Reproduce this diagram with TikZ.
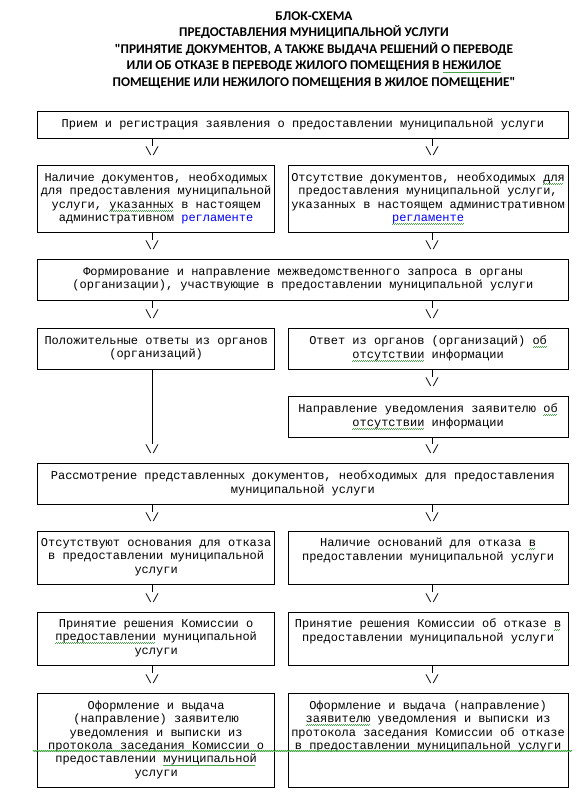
\documentclass[tikz,border=0pt]{standalone}
\usepackage{fontspec}
\setmainfont{Liberation Mono}
\newfontfamily\headfont{Carlito}
\usetikzlibrary{decorations.pathmorphing}
\definecolor{cblue}{RGB}{0,0,255}
\definecolor{cgreen}{RGB}{70,165,70}
% spell-check wave under a word
\newsavebox\sqbox
\newcommand\sqw[1]{\sbox\sqbox{#1}\rlap{\raisebox{-2.5pt}{\textcolor{cgreen}{\hbox to \wd\sqbox{\leaders\hbox{\rule{0.75pt}{0.6pt}\raisebox{0.6pt}{\rule{0.75pt}{0.6pt}}}\hfill}}}}\usebox\sqbox}
\tikzset{
  every picture/.style={line width=0.75pt},
  head/.style={font=\headfont\bfseries\fontsize{10pt}{12.4pt}\selectfont, align=center, inner sep=0pt,
    execute at begin node=\strut, execute at end node=\strut},
  box/.style={draw, align=center, inner sep=0pt, anchor=north west,
    font=\fontsize{9pt}{10.05pt}\selectfont, execute at begin node=\strut, execute at end node=\strut},
  wbox/.style={box, minimum width=397.65pt},
  lbox/.style={box, minimum width=177.5pt},
  rbox/.style={box, minimum width=209.85pt},
  down/.style={font=\fontsize{9pt}{9pt}\selectfont, inner sep=0.75pt},
  link/.style={draw, line width=0.75pt},
  wave/.style={draw=cgreen, line width=0.6pt, decorate, decoration={zigzag, amplitude=0.45pt, segment length=1.5pt}},
}

\begin{document}
\begin{tikzpicture}[x=0.75pt, y=-0.75pt]
  \useasboundingbox (0,0) rectangle (577,797);
  \def\xl{152} \def\xr{432}
  % title
  \node[head] (title) at (314,51.5) {БЛОК-СХЕМА\\ПРЕДОСТАВЛЕНИЯ МУНИЦИПАЛЬНОЙ УСЛУГИ\\"ПРИНЯТИЕ ДОКУМЕНТОВ, А ТАКЖЕ ВЫДАЧА РЕШЕНИЙ О ПЕРЕВОДЕ\\ИЛИ ОБ ОТКАЗЕ В ПЕРЕВОДЕ ЖИЛОГО ПОМЕЩЕНИЯ В \sqw{НЕЖИЛОЕ}\\ПОМЕЩЕНИЕ ИЛИ НЕЖИЛОГО ПОМЕЩЕНИЯ В ЖИЛОЕ ПОМЕЩЕНИЕ"};
  % boxes
  \node[wbox, minimum height=20.7pt] (recv) at (37.3,110.7) {Прием и регистрация заявления о предоставлении муниципальной услуги};
  \node[lbox, minimum height=50pt] (docsyes) at (37.3,165.3) {Наличие документов, необходимых\\для предоставления муниципальной\\услуги, \sqw{указанных} в настоящем\\административном \textcolor{cblue}{регламенте}};
  \node[rbox, minimum height=50pt] (docsno) at (287.7,165.3) {Отсутствие документов, необходимых \sqw{для}\\предоставления муниципальной услуги,\\указанных в настоящем административном\\\textcolor{cblue}{\sqw{регламенте}}};
  \node[wbox, minimum height=31.1pt] (query) at (37.3,259) {Формирование и направление межведомственного запроса в органы\\(организации), участвующие в предоставлении муниципальной услуги};
  \node[lbox, minimum height=31.1pt] (answyes) at (37.3,327.7) {Положительные ответы из органов\\(организаций)};
  \node[rbox, minimum height=31.1pt] (answno) at (287.7,327.7) {Ответ из органов (организаций) \sqw{об}\\\sqw{отсутствии} информации};
  \node[rbox, minimum height=31.1pt] (notify) at (287.7,395.7) {Направление уведомления заявителю \sqw{об}\\\sqw{отсутствии} информации};
  \node[wbox, minimum height=31.1pt] (review) at (37.3,462.7) {Рассмотрение представленных документов, необходимых для предоставления\\муниципальной услуги};
  \node[lbox, minimum height=40pt] (noground) at (37.3,530.7) {Отсутствуют основания для отказа\\в предоставлении муниципальной\\услуги};
  \node[rbox, minimum height=40pt] (ground) at (287.7,530.7) {Наличие оснований для отказа \sqw{в}\\предоставлении муниципальной услуги\\~};
  \node[lbox, minimum height=40pt] (grant) at (37.3,611.5) {Принятие решения Комиссии о\\\sqw{предоставлении} муниципальной\\услуги};
  \node[rbox, minimum height=40pt] (refuse) at (287.7,611.5) {Принятие решения Комиссии об отказе \sqw{в}\\предоставлении муниципальной услуги\\~};
  \node[lbox, minimum height=71.1pt] (issueyes) at (37.3,692.5) {Оформление и выдача\\(направление) заявителю\\уведомления и выписки из\\протокола заседания Комиссии о\\предоставлении \sqw{муниципальной}\\услуги};
  \node[rbox, minimum height=71.1pt] (issueno) at (287.7,692.5) {Оформление и выдача (направление)\\\sqw{заявителю} уведомления и выписки из\\протокола заседания Комиссии об отказе\\в предоставлении муниципальной услуги\\~\\~};
  \draw[wave] (33,751) -- (572,751);
  % arrows
  \node[down] (v1) at (\xl,151.5) {\textbackslash/};
  \node[down] (v2) at (\xr,151.5) {\textbackslash/};
  \node[down] (v3) at (\xl,245.5) {\textbackslash/};
  \node[down] (v4) at (\xr,245.5) {\textbackslash/};
  \node[down] (v5) at (\xl,314) {\textbackslash/};
  \node[down] (v6) at (\xr,314) {\textbackslash/};
  \node[down] (v7) at (\xr,382.5) {\textbackslash/};
  \node[down] (v8) at (\xl,449.5) {\textbackslash/};
  \node[down] (v9) at (\xr,449.5) {\textbackslash/};
  \node[down] (v10) at (\xl,517.5) {\textbackslash/};
  \node[down] (v11) at (\xr,517.5) {\textbackslash/};
  \node[down] (v12) at (\xl,598) {\textbackslash/};
  \node[down] (v13) at (\xr,598) {\textbackslash/};
  \node[down] (v14) at (\xl,679) {\textbackslash/};
  \node[down] (v15) at (\xr,679) {\textbackslash/};
  \draw[link] (recv.south -| v1) -- (v1.north);
  \draw[link] (recv.south -| v2) -- (v2.north);
  \draw[link] (docsyes.south -| v3) -- (v3.north);
  \draw[link] (docsno.south -| v4) -- (v4.north);
  \draw[link] (query.south -| v5) -- (v5.north);
  \draw[link] (query.south -| v6) -- (v6.north);
  \draw[link] (answno.south -| v7) -- (v7.north);
  \draw[link] (answyes.south -| v8) -- (v8.north);
  \draw[link] (notify.south -| v9) -- (v9.north);
  \draw[link] (review.south -| v10) -- (v10.north);
  \draw[link] (review.south -| v11) -- (v11.north);
  \draw[link] (noground.south -| v12) -- (v12.north);
  \draw[link] (ground.south -| v13) -- (v13.north);
  \draw[link] (grant.south -| v14) -- (v14.north);
  \draw[link] (refuse.south -| v15) -- (v15.north);
\end{tikzpicture}
\end{document}
